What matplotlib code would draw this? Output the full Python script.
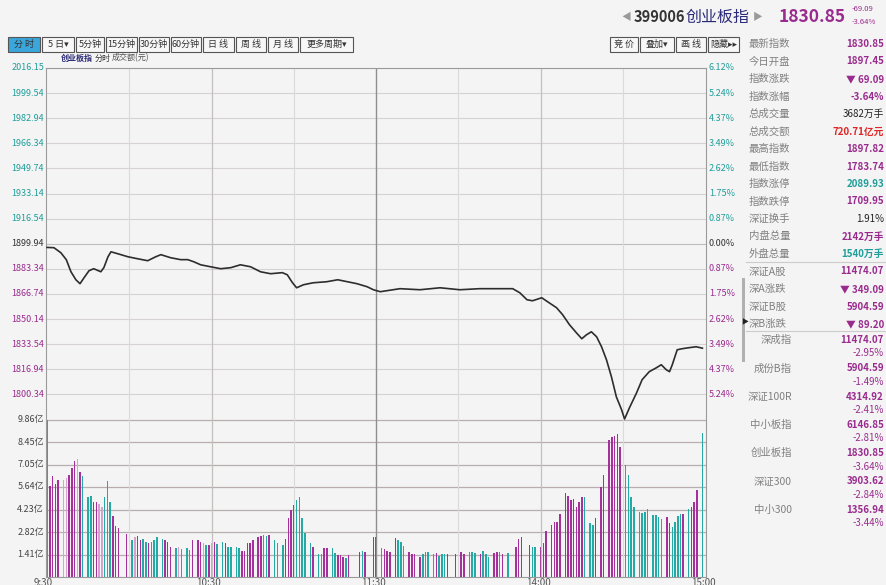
import matplotlib
matplotlib.use('Agg')
import matplotlib.pyplot as plt
from matplotlib.patches import Rectangle

plt.rcParams['font.family'] = ['Noto Sans CJK SC', 'DejaVu Sans']

# ---- data ----
prev_close = 1899.94
price_labels = ['2016.15', '1999.54', '1982.94', '1966.34', '1949.74', '1933.14', '1916.54',
                '1899.94', '1883.34', '1866.74', '1850.14', '1833.54', '1816.94', '1800.34']
pct_labels = ['6.12%', '5.24%', '4.37%', '3.49%', '2.62%', '1.75%', '0.87%',
              '0.00%', '0.87%', '1.75%', '2.62%', '3.49%', '4.37%', '5.24%']
vol_labels = ['1.41亿', '2.82亿', '4.23亿', '5.64亿', '7.05亿', '8.45亿', '9.86亿']
time_labels = ['9:30', '10:30', '11:30', '14:00', '15:00']
time_pos = [0, 60, 120, 180, 240]

# minute index (0..240) and index level
minutes = [0, 2.5, 5, 7, 8.7, 10.5, 12, 13.5, 15.3, 17, 19.6, 20.7, 22.2, 23.3, 25.8, 29.5,
           33, 36.7, 39.6, 41.5, 45, 48.7, 51.3, 53.5, 56, 59.6, 63.3, 67, 70.5, 74.2, 77.8,
           81.5, 85.8, 87.6, 89.5, 91, 93.5, 97, 102, 106, 109.5, 113, 116.7, 119,
           121.5, 128.7, 136, 143.3, 150.5, 157.8, 165, 169.8, 172.4, 175, 177, 180.4, 182.5,
           185.8, 188, 190.5, 193, 195, 196.7, 198.5, 200.4, 202.2, 204, 205.8, 207.6, 209.5,
           210.6, 212.4, 215, 217, 219.6, 222.2, 224, 225.8, 227, 228, 229.8, 231.6, 234.2,
           236.7, 239]
prices = [1897.5, 1897.3, 1894.0, 1889.4, 1881.4, 1876.1, 1873.5, 1877.5, 1882.1, 1883.4,
          1881.4, 1884.1, 1891.3, 1894.6, 1893.3, 1891.3, 1890.0, 1888.7, 1891.3, 1892.7,
          1890.7, 1889.4, 1889.4, 1888.0, 1886.0, 1884.7, 1883.4, 1884.1, 1886.0, 1884.7,
          1881.4, 1880.1, 1880.8, 1879.4, 1874.1, 1870.8, 1872.8, 1874.1, 1874.8, 1876.1,
          1874.8, 1873.5, 1871.5, 1869.5, 1868.2, 1870.2, 1869.5, 1870.8, 1869.5, 1870.2,
          1870.2, 1870.2, 1867.5, 1862.9, 1862.2, 1864.2, 1861.6, 1857.6, 1853.0, 1846.4,
          1841.1, 1837.1, 1839.7, 1841.7, 1838.4, 1831.8, 1823.2, 1812.0, 1798.7, 1790.2,
          1784.0, 1791.5, 1801.4, 1810.0, 1815.3, 1817.9, 1819.9, 1816.6, 1815.3, 1819.9,
          1829.8, 1830.5, 1831.2, 1831.8, 1830.85]

# turnover per minute (亿), M = up, T = down, L = light up, - = none
volume = [9.86, 5.7, 6.3, 5.8, 6.1, 0, 6.1, 6.2, 6.4, 6.8,
          7.3, 7.4, 6.6, 6.3, 0, 5.0, 5.1, 4.7, 4.7, 4.6,
          4.4, 5.0, 6.0, 4.7, 3.8, 3.2, 3.1, 0, 0, 2.7,
          2.5, 2.3, 2.5, 2.6, 2.3, 2.4, 2.2, 2.1, 2.2, 2.3,
          2.5, 0, 2.4, 2.3, 2.2, 1.9, 0, 1.8, 1.85, 1.75,
          0, 1.8, 1.7, 2.3, 0, 2.3, 2.2, 2.1, 2.0, 2.0,
          2.15, 2.2, 2.05, 0, 2.2, 2.1, 1.9, 1.86, 0, 1.86,
          1.8, 1.6, 1.6, 2.15, 2.1, 2.3, 0, 2.5, 2.6, 2.65,
          2.6, 2.65, 0, 2.3, 2.15, 0, 2.0, 2.4, 3.7, 4.2,
          4.5, 4.8, 5.0, 3.68, 2.78, 0, 2.15, 1.9, 0, 1.45,
          1.45, 1.84, 1.8, 0, 1.8, 1.5, 1.4, 1.4, 1.25, 1.2,
          1.35, 0, 0, 0, 1.57, 1.65, 1.57, 0, 0, 2.49,
          2.49, 0, 1.84, 1.74, 1.65, 1.57, 0, 2.42, 2.32, 2.21,
          1.94, 0, 1.57, 1.42, 1.42, 0, 1.25, 1.46, 1.57, 1.57,
          0, 1.42, 1.5, 1.3, 1.42, 1.42, 1.42, 0, 0, 1.46,
          1.57, 1.57, 1.46, 0, 1.57, 1.57, 1.5, 0, 1.42, 1.63,
          1.42, 1.25, 0, 1.5, 1.57, 1.57, 1.42, 0, 1.5, 0,
          0, 1.86, 2.36, 2.49, 0, 0, 2.0, 1.9, 1.86, 0,
          1.86, 2.1, 2.9, 0, 3.26, 3.47, 3.47, 3.95, 0, 5.25,
          5.08, 4.83, 4.9, 4.41, 4.72, 5.03, 5.03, 0, 3.40, 3.26,
          3.68, 0, 5.62, 6.40, 0, 8.59, 8.76, 8.84, 8.97, 8.13,
          0, 7.02, 6.40, 5.03, 4.37, 0, 4.10, 3.99, 4.10, 4.24,
          0, 3.89, 3.89, 3.78, 3.62, 0, 3.74, 3.37, 3.11, 3.47,
          3.82, 3.95, 3.95, 0, 4.24, 4.37, 4.72, 5.45, 0, 9.0]
direction = ('TMMMM-LLMM' 'MLMT-TTMML' 'LTTTMMM--M' 'MTLMMTTMTT' 'T-TMMM-TLT'
             '-TTM-MMLTM' 'LMT-TMTT-T' 'TMMMMM-MMT' 'TM-TT-TMMM' 'MTTTT-TM-T'
             'TMM-TTMMMT' 'M---MTM--M' 'M-TMMM-MTT' 'T-MMM-MTTT' '-TMTTTM--M'
             'MMM-TTT-MT' 'TT-MMTM-T-' '-MMM--MTT-' 'MMM-MMMM-M' 'MMMMMMT-TT'
             'M-MM-MMMMM' '-TTTT-TTTT' '-TTTT-MMTT' 'TTM-TMMM-T')

right_rows = [('最新指数', '1830.85', '#9a2b8e'), ('今日开盘', '1897.45', '#9a2b8e'),
              ('指数涨跌', '▼ 69.09', '#9a2b8e'), ('指数涨幅', '-3.64%', '#9a2b8e'),
              ('总成交量', '3682万手', '#222222'), ('总成交额', '720.71亿元', '#e02424'),
              ('最高指数', '1897.82', '#9a2b8e'), ('最低指数', '1783.74', '#9a2b8e'),
              ('指数涨停', '2089.93', '#1f9e9a'), ('指数跌停', '1709.95', '#9a2b8e'),
              ('深证换手', '1.91%', '#222222'), ('内盘总量', '2142万手', '#9a2b8e'),
              ('外盘总量', '1540万手', '#1f9e9a'), ('深证A股', '11474.07', '#9a2b8e'),
              ('深A涨跌', '▼ 349.09', '#9a2b8e'), ('深证B股', '5904.59', '#9a2b8e'),
              ('深B涨跌', '▼ 89.20', '#9a2b8e')]
idx_names = ['深成指', '成份B指', '深证100R', '中小板指', '创业板指', '深证300', '中小300']
idx_values = ['11474.07', '5904.59', '4314.92', '6146.85', '1830.85', '3903.62', '1356.94']
idx_pcts = ['-2.95%', '-1.49%', '-2.41%', '-2.81%', '-3.64%', '-2.84%', '-3.44%']

left_buttons = ['分 时', '5 日▾', '5分钟', '15分钟', '30分钟', '60分钟', '日 线', '周 线', '月 线', '更多周期▾']
right_buttons = ['竞 价', '叠加▾', '画 线', '隐藏▸▸']

W, H = 887, 585
purple = '#9a2b8e'
teal = '#1f9e9a'
bar_colors = {'M': '#a5309c', 'L': '#d7a0cf', 'T': '#25a9a4', '-': '#ffffff'}

fig = plt.figure(figsize=(W / 100, H / 100), dpi=100, facecolor='#f4f4f4')

# overlay in pixel coordinates for all the screen furniture
ov = fig.add_axes([0, 0, 1, 1])
ov.set_xlim(0, W)
ov.set_ylim(H, 0)
ov.axis('off')
ov.patch.set_visible(False)

# chart box: x 46..706 px, y 68..577 px
x0, x1, y0, y1 = 46, 706, 68, 577
box = [x0 / W, 1 - y1 / H, (x1 - x0) / W, (y1 - y0) / H]
ax = fig.add_axes(box)
ax.set_facecolor('none')
px_per_step = 25.1
step = 16.6
p_top = 2016.15
p_bot = p_top - (y1 - y0) * step / px_per_step
ax.set_ylim(p_bot, p_top)
ax.set_xlim(-0.4, 240.3)
for s in ax.spines.values():
    s.set_color('#9a9a9a')
    s.set_linewidth(0.8)
ax.set_xticks([])
ax.set_yticks([])

for lab in price_labels:
    v = float(lab)
    ax.axhline(v, color='#bdbdbd' if v == prev_close else '#d6d2d2', lw=0.8, zorder=1)
for t in [30, 90, 150, 210]:
    ax.axvline(t, color='#dadada', lw=0.8, zorder=1)
for t in [60, 180]:
    ax.axvline(t, color='#c4c0c0', lw=0.9, zorder=1)
ax.axvline(120, color='#8f8f8f', lw=1.0, zorder=1)

# volume twin axis, same box
axv = ax.twinx()
axv.set_ylim(0, (y1 - y0) / 22.5 * 1.41)
axv.set_yticks([])
for s in axv.spines.values():
    s.set_visible(False)
for lab in vol_labels:
    axv.axhline(float(lab[:-1]), color='#b9adad', lw=0.9, zorder=1)
axv.bar(range(len(volume)), volume, width=0.55,
        color=[bar_colors[c] for c in direction], zorder=2)

ax.set_zorder(axv.get_zorder() + 1)
ax.plot(minutes, prices, color='#2d2d2d', lw=1.2, zorder=3, clip_on=False)

# left / right scale labels
for lab, pct in zip(price_labels, pct_labels):
    v = float(lab)
    y = y0 + (p_top - v) / step * px_per_step
    c = teal if v > prev_close else ('#333333' if v == prev_close else purple)
    ov.text(44, y, lab, ha='right', va='center', fontsize=6.5, color=c)
    ov.text(709, y, pct, ha='left', va='center', fontsize=6.5, color=c)
for lab in vol_labels:
    y = y1 - float(lab[:-1]) / 1.41 * 22.5
    ov.text(44, y, lab, ha='right', va='center', fontsize=6.5, color='#444444')

for lab, t in zip(time_labels, time_pos):
    x = x0 + t * (x1 - x0) / 240
    ov.text(x - 3, 577.5, lab, ha='center', va='top', fontsize=7, color='#555555')

# chart header
ov.text(61, 58, '创业板指', fontsize=5.8, color='#2b2a78', fontweight='bold', va='center')
ov.text(95, 58, '分时', fontsize=5.8, color='#333333', va='center')
ov.text(112, 58, '成交额(元)', fontsize=5.8, color='#555555', va='center')

# toolbars
bx = [8, 42, 76, 106, 139, 171, 203, 236, 268, 300, 355]
for i, lab in enumerate(left_buttons):
    fc = '#3aa6dc' if i == 0 else '#f7f7f7'
    ov.add_patch(Rectangle((bx[i], 37), bx[i + 1] - bx[i] - 2, 15, fc=fc, ec='#555555', lw=0.8))
    ov.text((bx[i] + bx[i + 1] - 2) / 2, 44.5, lab, ha='center', va='center', fontsize=6.5,
            color='#333333')
rx = [610, 640, 676, 708, 741]
for i, lab in enumerate(right_buttons):
    ov.add_patch(Rectangle((rx[i], 37), rx[i + 1] - rx[i] - 2, 15, fc='#f7f7f7', ec='#555555', lw=0.8))
    ov.text((rx[i] + rx[i + 1] - 2) / 2, 44.5, lab, ha='center', va='center', fontsize=6.5,
            color='#333333')

# title
ov.text(626, 17, '◀', fontsize=7, color='#999999', va='center', ha='center')
ov.text(634, 17, '399006', fontsize=10.5, color='#333333', va='center', fontweight='bold')
ov.text(686, 17, '创业板指', fontsize=11.5, color='#2b2a78', va='center')
ov.text(758, 17, '▶', fontsize=7, color='#999999', va='center', ha='center')
ov.text(779, 17, '1830.85', fontsize=12.5, color=purple, fontweight='bold', va='center')
ov.text(852, 9, '-69.09', fontsize=5.5, color=purple, va='center')
ov.text(852, 22, '-3.64%', fontsize=5.5, color=purple, va='center')

# right info panel
for i, (lab, val, c) in enumerate(right_rows):
    y = 44 + i * 17.5
    ov.text(749, y, lab, fontsize=7.5, color='#808080', va='center')
    ov.text(884, y, val, fontsize=7, color=c, va='center', ha='right',
            fontweight='bold' if c != '#222222' else 'normal')
ov.plot([746, 887], [262, 262], color='#cccccc', lw=0.8)
ov.plot([746, 887], [331, 331], color='#cccccc', lw=0.8)
for i, (name, val, pct) in enumerate(zip(idx_names, idx_values, idx_pcts)):
    y = 340 + i * 28.3
    ov.text(792, y, name, fontsize=7.5, color='#808080', va='center', ha='right')
    ov.text(884, y, val, fontsize=7, color=purple, va='center', ha='right', fontweight='bold')
    ov.text(884, y + 13.5, pct, fontsize=7, color=purple, va='center', ha='right')
ov.add_patch(Rectangle((742, 278), 3.5, 84, fc='#b0b0b0', ec='none'))
ov.text(745, 322, '▶', fontsize=5, color='#222222', va='center', ha='center')

fig.savefig('out.png', dpi=100, facecolor=fig.get_facecolor())
